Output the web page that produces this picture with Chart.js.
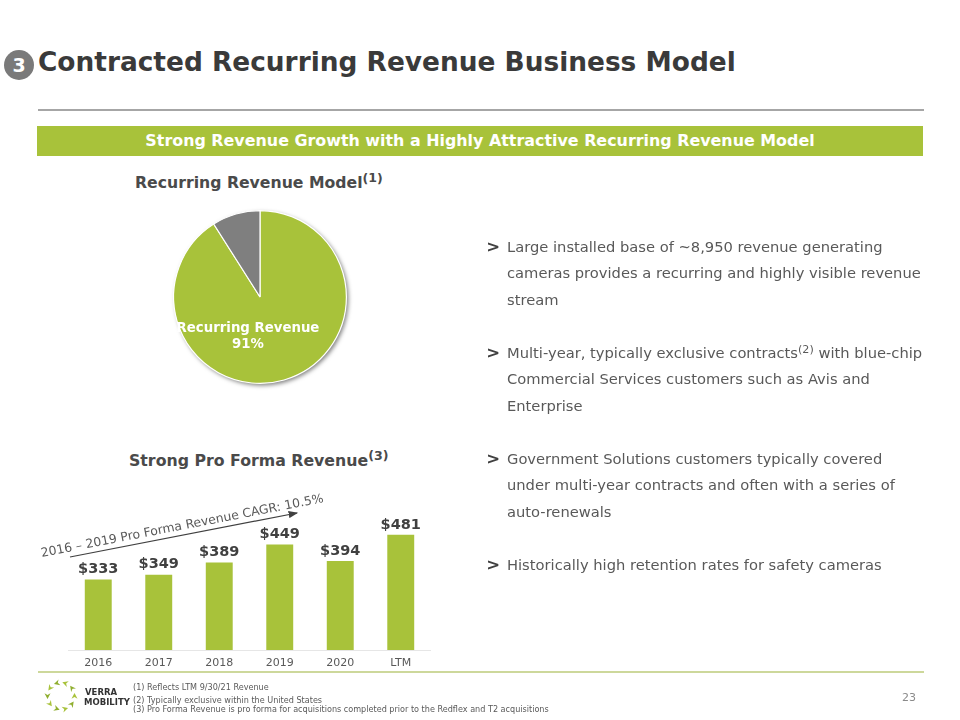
<!DOCTYPE html>
<html><head><meta charset="utf-8">
<script src="https://cdn.jsdelivr.net/npm/chart.js@4"></script>
<style>
html,body{margin:0;padding:0;background:#fff;}
body{width:960px;height:720px;position:relative;overflow:hidden;font-family:"DejaVu Sans",sans-serif;}
.t{position:absolute;white-space:nowrap;line-height:1;}
.l{color:#595959;font-size:14.7px;left:507px;}
.g{color:#404040;font-size:15px;font-weight:bold;left:487px;transform:scaleX(1.1);}
sup{font-size:76%;vertical-align:baseline;position:relative;top:-.45em;line-height:0;}
.h sup{font-size:80%;}
canvas{position:absolute;}
</style></head><body>
<div class="t" style="left:38px;top:49px;font-size:26.4px;font-weight:bold;color:#3a3a3a;">Contracted Recurring Revenue Business Model</div>
<div style="position:absolute;left:4px;top:50px;width:30px;height:30px;border-radius:50%;background:#7a7a7a;"></div>
<div class="t" style="left:4px;top:56px;width:30px;text-align:center;font-size:19px;font-weight:bold;color:#fff;">3</div>
<div style="position:absolute;left:38px;top:109px;width:886px;height:1.5px;background:#a6a6a6;"></div>
<div style="position:absolute;left:37px;top:126px;width:886px;height:30px;background:#a8c23a;"></div>
<div class="t" style="left:37px;top:133px;width:886px;text-align:center;font-size:15.9px;font-weight:bold;color:#fff;">Strong Revenue Growth with a Highly Attractive Recurring Revenue Model</div>
<div class="t h" style="left:135px;top:175px;font-size:15.7px;font-weight:bold;color:#4a4a4a;">Recurring Revenue Model<sup>(1)</sup></div>
<div class="t h" style="left:129px;top:453px;font-size:15.75px;font-weight:bold;color:#4a4a4a;">Strong Pro Forma Revenue<sup>(3)</sup></div>

<canvas id="pie" style="left:160px;top:197px;width:200px;height:200px"></canvas>
<canvas id="bar" style="left:67.7px;top:500px;width:363.6px;height:180px"></canvas>

<svg style="position:absolute;left:0;top:0" width="960" height="720">
<defs><marker id="a" markerWidth="8" markerHeight="6" refX="7" refY="3" orient="auto"><path d="M0 0L8 3L0 6z" fill="#404040"/></marker></defs>
<line x1="70" y1="557" x2="297" y2="513" stroke="#404040" stroke-width="1.2" marker-end="url(#a)"/>
<g id="logo"></g>
</svg>
<div class="t" style="left:41px;top:547px;font-size:12.4px;color:#595959;transform-origin:0 50%;transform:rotate(-11deg);">2016 – 2019 Pro Forma Revenue CAGR: 10.5%</div>

<div class="t g" style="top:240px">&gt;</div>
<div class="t l" style="top:240px">Large installed base of ~8,950 revenue generating</div>
<div class="t l" style="top:266px">cameras provides a recurring and highly visible revenue</div>
<div class="t l" style="top:293px">stream</div>
<div class="t g" style="top:346px">&gt;</div>
<div class="t l" style="top:346px">Multi-year, typically exclusive contracts<sup>(2)</sup> with blue-chip</div>
<div class="t l" style="top:372px">Commercial Services customers such as Avis and</div>
<div class="t l" style="top:399px">Enterprise</div>
<div class="t g" style="top:452px">&gt;</div>
<div class="t l" style="top:452px">Government Solutions customers typically covered</div>
<div class="t l" style="top:478px">under multi-year contracts and often with a series of</div>
<div class="t l" style="top:505px">auto-renewals</div>
<div class="t g" style="top:558px">&gt;</div>
<div class="t l" style="top:558px">Historically high retention rates for safety cameras</div>

<div style="position:absolute;left:38px;top:671px;width:886px;height:1.5px;background:#cdd89b;"></div>
<div class="t" style="left:85px;top:688px;font-size:8.5px;font-weight:bold;color:#333;">VERRA</div>
<div class="t" style="left:84px;top:698px;font-size:8.5px;font-weight:bold;color:#333;">MOBILITY</div>
<div class="t" style="left:133px;top:683px;font-size:8.1px;color:#595959;">(1) Reflects LTM 9/30/21 Revenue</div>
<div class="t" style="left:133px;top:696px;font-size:8.1px;color:#595959;">(2) Typically exclusive within the United States</div>
<div class="t" style="left:133px;top:705px;font-size:8.1px;color:#595959;">(3) Pro Forma Revenue is pro forma for acquisitions completed prior to the Redflex and T2 acquisitions</div>
<div class="t" style="left:902px;top:692px;font-size:11px;color:#8a8a8a;">23</div>

<script>
// ---- data ----
const pieLabels = ['Recurring Revenue', 'Other'];
const pieValues = [91, 9];
const categories = ['2016', '2017', '2018', '2019', '2020', 'LTM'];
const revenue = [333, 349, 389, 449, 394, 481];

const GREEN = '#a8c23a', GRAY = '#7f7f7f';
const font = '"DejaVu Sans", sans-serif';

// logo ring of small arrowheads pointing counter-clockwise
(function () {
  const g = document.getElementById('logo'), cx = 61, cy = 696, R = 13.5;
  let s = '';
  for (let i = 0; i < 10; i++) {
    const a = i * 36 + 18;
    s += `<path transform="translate(${cx} ${cy}) rotate(${a}) translate(0 ${-R}) rotate(-90)" d="M-3 2.8L0 -3L3 2.8L0 1z" fill="${i % 2 ? '#8fae2e' : GREEN}"/>`;
  }
  g.innerHTML = s;
})();

new Chart(document.getElementById('pie'), {
  type: 'pie',
  data: { labels: pieLabels, datasets: [{ data: pieValues, backgroundColor: [GREEN, GRAY], borderColor: '#fff', borderWidth: 1.2 }] },
  options: {
    responsive: false, animation: false, devicePixelRatio: 1,
    layout: { padding: 13 },
    plugins: { legend: { display: false }, tooltip: { enabled: false } }
  },
  plugins: [{
    id: 'pieExtras',
    beforeDatasetsDraw(c) {
      const x = c.ctx, a = c.getDatasetMeta(0).data[0];
      x.save();
      x.shadowColor = 'rgba(0,0,0,.5)'; x.shadowBlur = 4; x.shadowOffsetX = 2; x.shadowOffsetY = 2;
      x.fillStyle = '#fff';
      x.beginPath(); x.arc(a.x, a.y, a.outerRadius, 0, Math.PI * 2); x.fill();
      x.restore();
    },
    afterDraw(c) {
      const x = c.ctx, a = c.getDatasetMeta(0).data[0];
      x.save();
      x.fillStyle = '#fff'; x.font = 'bold 13.3px ' + font; x.textAlign = 'center'; x.textBaseline = 'middle';
      x.fillText(pieLabels[0], a.x - 12, a.y + 31.5);
      x.fillText(pieValues[0] + '%', a.x - 12, a.y + 47.5);
      x.restore();
    }
  }]
});

new Chart(document.getElementById('bar'), {
  type: 'bar',
  data: { labels: categories, datasets: [{ data: revenue, backgroundColor: GREEN, categoryPercentage: 1, barPercentage: 0.445 }] },
  options: {
    responsive: false, animation: false, devicePixelRatio: 1,
    layout: { padding: { top: 29, left: 0, right: 0, bottom: 0 } },
    scales: {
      y: { display: false, min: 100, max: 500 },
      x: {
        afterFit(s) { s.height = 30; },
        grid: { display: false, drawTicks: false },
        border: { color: '#e6e6e6', width: 1 },
        ticks: { color: '#595959', font: { family: font, size: 11 }, padding: 7, maxRotation: 0 }
      }
    },
    plugins: { legend: { display: false }, tooltip: { enabled: false } }
  },
  plugins: [{
    id: 'valueLabels',
    afterDatasetsDraw(c) {
      const x = c.ctx; x.save();
      x.fillStyle = '#404040'; x.font = 'bold 14.5px ' + font; x.textAlign = 'center'; x.textBaseline = 'middle';
      c.getDatasetMeta(0).data.forEach((b, i) => x.fillText('$' + revenue[i], b.x, b.y - 10));
      x.restore();
    }
  }]
});
</script>
</body></html>
